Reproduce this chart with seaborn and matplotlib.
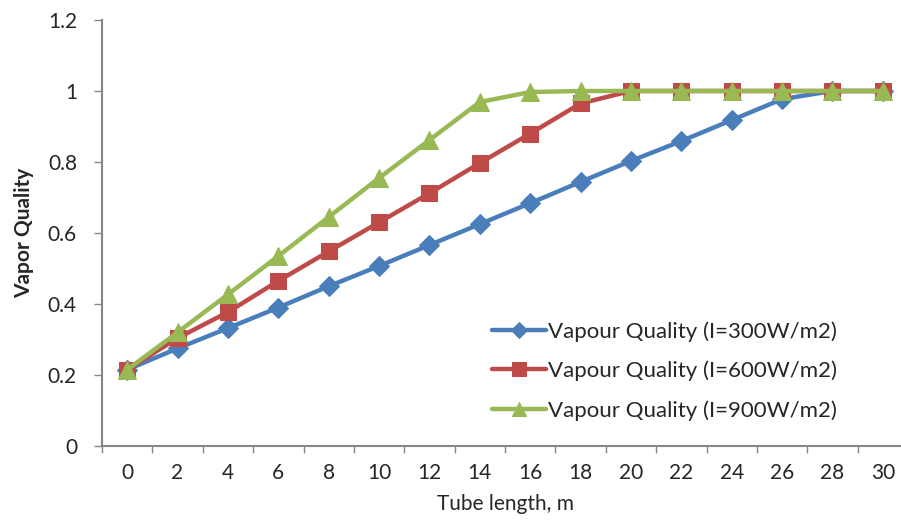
import matplotlib
matplotlib.use("Agg")
import matplotlib.pyplot as plt
import pandas as pd
import seaborn as sns

tube_length = [0, 2, 4, 6, 8, 10, 12, 14, 16, 18, 20, 22, 24, 26, 28, 30]
q_300 = [0.215, 0.275, 0.332, 0.39, 0.45, 0.507, 0.566, 0.625, 0.684, 0.744,
         0.803, 0.859, 0.918, 0.977, 1.0, 1.0]
q_600 = [0.215, 0.304, 0.377, 0.465, 0.548, 0.63, 0.712, 0.797, 0.88, 0.965,
         1.0, 1.0, 1.0, 1.0, 1.0, 1.0]
q_900 = [0.215, 0.32, 0.427, 0.535, 0.645, 0.755, 0.862, 0.969, 0.997, 1.0,
         1.0, 1.0, 1.0, 1.0, 1.0, 1.0]
labels = ["Vapour Quality (I=300W/m2)", "Vapour Quality (I=600W/m2)",
          "Vapour Quality (I=900W/m2)"]
colors = ["#4A7EBB", "#BE4B48", "#98B954"]
markers = ["D", "s", "^"]
msizes = [10, 12, 13]

sns.set_style("white")
plt.rcParams["font.family"] = ["Lato", "DejaVu Sans"]

fig = plt.figure(figsize=(9.01, 5.29), dpi=100)
ax = fig.add_axes([102 / 901, 83 / 529, 806 / 901, 426 / 529])

for vals, lab, c, m, ms in zip([q_300, q_600, q_900], labels, colors, markers, msizes):
    df = pd.DataFrame({"x": tube_length, "y": vals})
    sns.lineplot(data=df, x="x", y="y", ax=ax, color=c, marker=m, markersize=ms,
                 markeredgecolor=c, linewidth=3.2, label=lab)

ax.set_xlim(-1, 31)
ax.set_ylim(0, 1.2)
ax.set_xticks(tube_length)
ax.set_xticks(range(-1, 32, 2), minor=True)
ax.set_yticks([0, 0.2, 0.4, 0.6, 0.8, 1.0, 1.2])
ax.set_yticklabels(["0", "0.2", "0.4", "0.6", "0.8", "1", "1.2"])
ax.tick_params(axis="x", which="major", length=0, pad=12, labelsize=15)
ax.tick_params(axis="x", which="minor", length=5, width=1, color="#868686", direction="out")
ax.tick_params(axis="y", length=6, width=1, color="#868686", direction="out", pad=12, labelsize=15)
ax.tick_params(bottom=True, left=True, which="both")

for s in ["top", "right"]:
    ax.spines[s].set_visible(False)
for s in ["left", "bottom"]:
    ax.spines[s].set_color("#868686")
    ax.spines[s].set_linewidth(1.5)

ax.set_xlabel("Tube length, m", fontsize=15, labelpad=8)
ax.set_ylabel("Vapor Quality", fontsize=15, fontweight="bold", labelpad=10)

ax.legend(loc="upper left", bbox_to_anchor=(0.465, 0.33), frameon=False, fontsize=16,
          handlelength=2.4, handletextpad=0.1, labelspacing=0.85, markerscale=0.8,
          borderpad=0.2)

fig.savefig("out.png", dpi=100)
